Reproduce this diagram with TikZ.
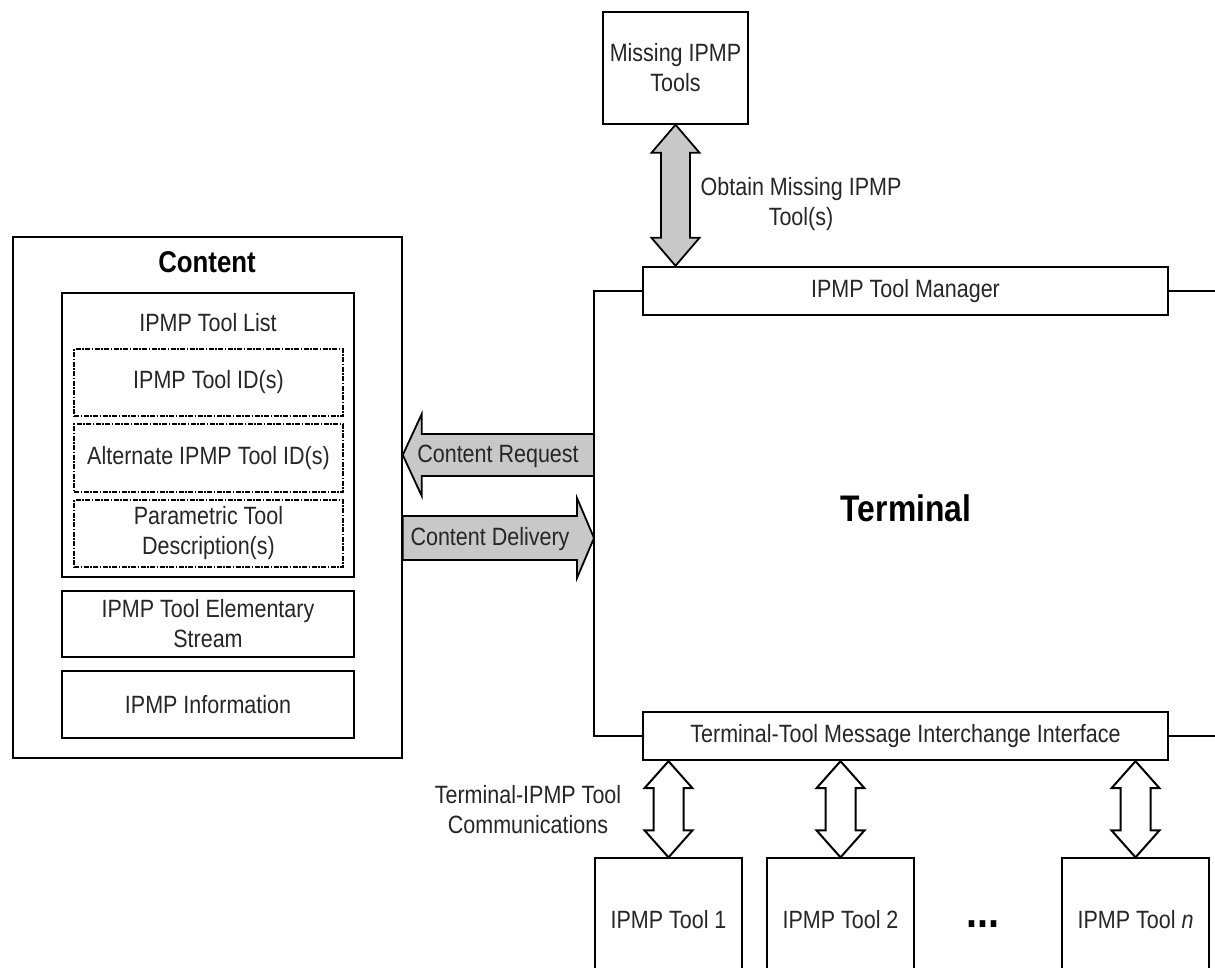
\documentclass[tikz,border=0pt]{standalone}
\usepackage{fontspec}
\setmainfont{Liberation Sans}[FakeStretch=0.86]
\usetikzlibrary{calc}
\definecolor{agray}{RGB}{200,200,200}
% vertical double arrow: #1 top point, #2 bottom point, #3 head half width, #4 shaft half width, #5 head length, #6 style
\newcommand{\vdblarrow}[6]{%
  \draw[#6] let \p1=(#1), \p2=(#2) in
    (\x1,\y1) -- (\x1+#3pt,\y1-#5pt) -- (\x1+#4pt,\y1-#5pt) -- (\x1+#4pt,\y2+#5pt)
    -- (\x1+#3pt,\y2+#5pt) -- (\x1,\y2) -- (\x1-#3pt,\y2+#5pt) -- (\x1-#4pt,\y2+#5pt)
    -- (\x1-#4pt,\y1-#5pt) -- (\x1-#3pt,\y1-#5pt) -- cycle;}
% horizontal single arrow: #1 tail, #2 tip, #3 head half, #4 shaft half, #5 head length, #6 style
\newcommand{\hblkarrow}[6]{%
  \draw[#6] let \p1=(#1), \p2=(#2), \n1={sign(\x2-\x1)} in
    (\x1,\y1+#4pt) -- (\x2-\n1*#5pt,\y1+#4pt) -- (\x2-\n1*#5pt,\y1+#3pt) -- (\x2,\y2)
    -- (\x2-\n1*#5pt,\y1-#3pt) -- (\x2-\n1*#5pt,\y1-#4pt) -- (\x1,\y1-#4pt) -- cycle;}
\begin{document}
\begin{tikzpicture}[x=1pt,y=-1pt,
  every node/.style={font=\fontsize{25}{30}\selectfont, inner sep=0pt, text=black!85},
  thinbox/.style={draw, line width=1.5pt},
  thickbox/.style={draw, line width=2.4pt},
  dbox/.style={draw, line width=1.8pt, dash pattern=on 5pt off 1.5pt on 1.5pt off 1.5pt},
  toolbox/.style={draw, line width=1.3pt, minimum width=147, minimum height=124},
  garrow/.style={draw, line width=1.8pt, fill=agray},
  warrow/.style={draw, line width=2pt, fill=white},
  title/.style={font=\fontsize{30}{34}\selectfont\bfseries, text=black}]
\useasboundingbox (0,0) rectangle (1215,968);
\fill[white] (0,0) rectangle (1215,968);

% Content side
\node[thinbox, minimum width=389, minimum height=521] (content) at (207.5,497.5) {};
\node[title] (ctitle) at (207,262) {Content};
\node[thickbox, minimum width=292, minimum height=284] (list) at (208,435) {};
\node (ltitle) at (208,323) {IPMP Tool List};
\node[dbox, minimum width=269, minimum height=67] (id) at (208.5,382.5) {IPMP Tool ID(s)};
\node[dbox, minimum width=269, minimum height=68] (alt) at (208.5,458) {Alternate IPMP Tool ID(s)};
\node[dbox, minimum width=269, minimum height=67, align=center] (par) at (208.5,533.5) {Parametric Tool\\Description(s)};
\node[thickbox, minimum width=292, minimum height=66, align=center] (es) at (208,624) {IPMP Tool Elementary\\Stream};
\node[thickbox, minimum width=292, minimum height=67] (info) at (208,704.5) {IPMP Information};

% Missing tools
\node[thinbox, minimum width=145, minimum height=112, align=center] (miss) at (675.5,68) {Missing IPMP\\Tools};

% Terminal
\node[thickbox, minimum width=525, minimum height=48] (mgr) at (905.5,291) {IPMP Tool Manager};
\node[thickbox, minimum width=525, minimum height=48] (iface) at (905.5,736) {Terminal-Tool Message Interchange Interface};
\coordinate (tl) at (594,291);
\coordinate (bl) at (594,736);
\coordinate (tr) at (1215,291);
\coordinate (br) at (1215,736);
\draw[line width=1.2pt] (mgr.west) -- (tl) -- (bl);
\draw[line width=2.4pt] ($(bl)+(0,-1.2)$) |- (iface.west);
\draw[line width=1.2pt] (mgr.east) -- (tr);
\draw[line width=2.4pt] (iface.east) -- (br);
\node[title, font=\fontsize{37}{40}\selectfont\bfseries] (term) at (906,508) {Terminal};

% Obtain arrow
\vdblarrow{miss.south}{mgr.north -| miss.south}{24}{14.5}{28}{garrow}
\node[align=center] (obtain) at (801,204) {Obtain Missing IPMP\\Tool(s)};

% Content request / delivery
\coordinate (reqtail) at (594,455);
\coordinate (deltip) at (594,538);
\hblkarrow{reqtail}{content.east |- reqtail}{41}{21}{19}{garrow}
\node (reqlabel) at (498,456) {Content Request};
\hblkarrow{content.east |- deltip}{deltip}{40}{22}{17}{garrow}
\node (dellabel) at (490,539) {Content Delivery};

% Tools
\node[toolbox] (t1) at (668.5,920) {IPMP Tool 1};
\node[toolbox] (t2) at (840.5,920) {IPMP Tool 2};
\node[toolbox] (tn) at (1135.5,920) {IPMP Tool \textit{n}};
\node[font=\fontsize{46}{50}\selectfont\bfseries, text=black] (dots) at (983,924) {...};

\vdblarrow{iface.south -| t1.north}{t1.north}{24}{15}{27}{warrow}
\vdblarrow{iface.south -| t2.north}{t2.north}{24}{15}{27}{warrow}
\vdblarrow{iface.south -| tn.north}{tn.north}{24}{15}{27}{warrow}
\node[align=center] (comm) at (528,810) {Terminal-IPMP Tool\\Communications};
\end{tikzpicture}
\end{document}
